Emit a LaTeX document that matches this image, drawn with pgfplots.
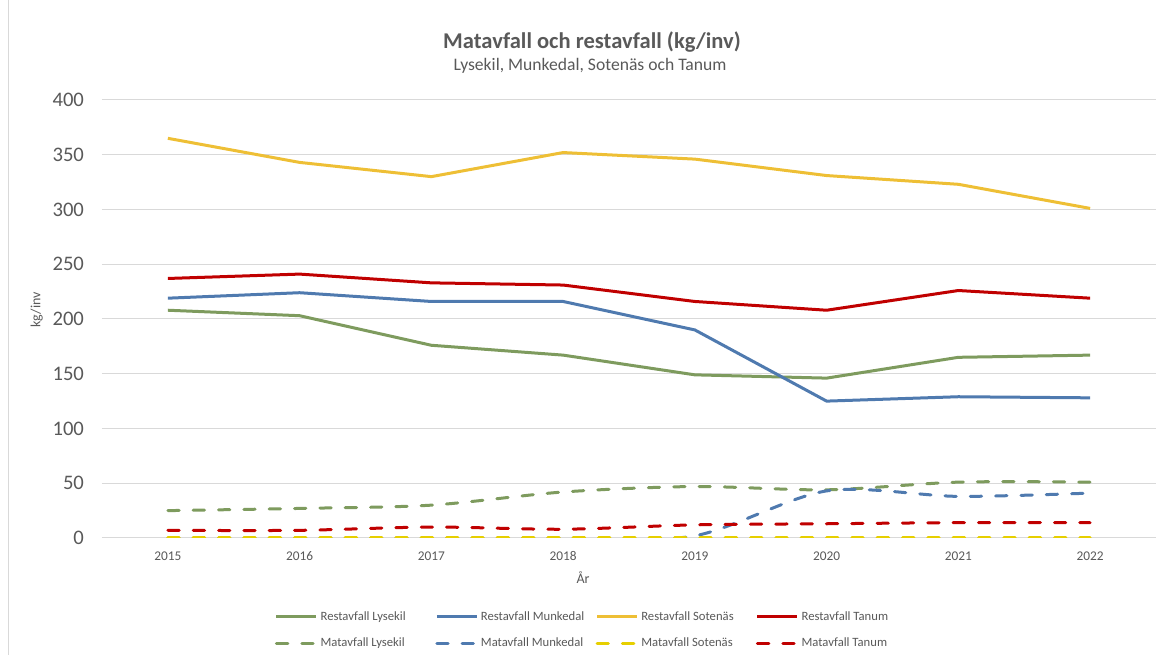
\documentclass[border=0pt]{standalone}
\usepackage{fontspec}
\setmainfont{Carlito}
\usepackage{pgfplots}
\pgfplotsset{compat=1.18}
\definecolor{cgreen}{HTML}{7E9B5E}
\definecolor{cblue}{HTML}{4F7AAF}
\definecolor{cyellow}{HTML}{EEBF35}
\definecolor{cyellowd}{HTML}{E6CF00}
\definecolor{cred}{HTML}{C00000}
\definecolor{cgrid}{HTML}{D9D9D9}
\definecolor{ctext}{HTML}{595959}
\begin{document}
\begin{tikzpicture}
\useasboundingbox (0,0) rectangle (870.75pt,491.25pt);
\draw[cgrid, line width=0.75pt] (6pt,0pt) -- (6pt,491.25pt);
\node[font=\fontsize{16.9}{20}\selectfont\bfseries, text=ctext] at (444pt,459.75pt) {Matavfall och restavfall (kg/inv)};
\node[font=\fontsize{13.2}{16}\selectfont, text=ctext] at (442.5pt,441.75pt) {Lysekil, Munkedal, Sotenäs och Tanum};
\begin{axis}[
  at={(76.5pt,87.75pt)}, anchor=south west,
  scale only axis, width=790.5pt, height=328.5pt,
  xmin=2014.5, xmax=2022.5, ymin=0, ymax=400,
  xtick={2015,2016,2017,2018,2019,2020,2021,2022},
  xticklabels={2015,2016,2017,2018,2019,2020,2021,2022},
  ytick={0,50,100,150,200,250,300,350,400},
  /pgf/number format/assume math mode=true,
  major tick length=0pt,
  axis line style={draw=none},
  ymajorgrids, grid style={cgrid, line width=0.75pt},
  yticklabel style={font=\fontsize{15.5}{18}\selectfont, text=ctext, anchor=east, xshift=-10pt},
  xticklabel style={font=\fontsize{10}{12}\selectfont, text=ctext, anchor=north, yshift=-6.5pt},
  ylabel={kg/inv}, xlabel={År},
  ylabel style={font=\fontsize{10.5}{12}\selectfont, text=ctext, at={(axis description cs:-0.062,0.5205)}, anchor=center},
  xlabel style={font=\fontsize{10.5}{12}\selectfont, text=ctext, at={(axis description cs:0.4564,-0.0913)}, anchor=center},
  legend columns=4,
  legend style={at={(axis description cs:0.1641,-0.2100)}, anchor=west, draw=none, inner sep=0pt, outer sep=0pt,
    font=\fontsize{9.5}{11}\selectfont, text=ctext, column sep=0pt, row sep=7.5pt, cells={anchor=west}},
  legend image code/.code={\draw[#1] (0pt,0pt) -- (30pt,0pt);},
  every axis plot/.append style={line width=2.25pt},
]
\addplot[cgreen, line join=round] coordinates {(2015,208) (2016,203) (2017,176) (2018,167) (2019,149) (2020,146) (2021,165) (2022,167)};
\addplot[cblue, line join=round] coordinates {(2015,219) (2016,224) (2017,216) (2018,216) (2019,190) (2020,125) (2021,129) (2022,128)};
\addplot[cyellow, line join=round] coordinates {(2015,365) (2016,343) (2017,330) (2018,352) (2019,346) (2020,331) (2021,323) (2022,301)};
\addplot[cred, line join=round] coordinates {(2015,237) (2016,241) (2017,233) (2018,231) (2019,216) (2020,208) (2021,226) (2022,219)};
\addplot[cgreen, smooth, line cap=round, dash pattern=on 8.5pt off 10.5pt] coordinates {(2015,25) (2016,27) (2017,30) (2018,42) (2019,47) (2020,44) (2021,51) (2022,51)};
\addplot[cblue, smooth, line cap=round, dash pattern=on 8.5pt off 10.5pt] coordinates {(2015,0) (2016,0) (2017,0) (2018,0) (2019,2) (2020,43) (2021,38) (2022,41)};
\addplot[cyellowd, smooth, line cap=round, dash pattern=on 8.5pt off 10.5pt] coordinates {(2015,0) (2016,0) (2017,0) (2018,0) (2019,0) (2020,0) (2021,0) (2022,0)};
\addplot[cred, smooth, line cap=round, dash pattern=on 8.5pt off 10.5pt] coordinates {(2015,7) (2016,7) (2017,10) (2018,8) (2019,12) (2020,13) (2021,14) (2022,14)};
\addlegendentry{\makebox[84pt][l]{Restavfall Lysekil}}
\addlegendentry{\makebox[84pt][l]{Restavfall Munkedal}}
\addlegendentry{\makebox[84pt][l]{Restavfall Sotenäs}}
\addlegendentry{\makebox[84pt][l]{Restavfall Tanum}}
\addlegendentry{\makebox[84pt][l]{Matavfall Lysekil}}
\addlegendentry{\makebox[84pt][l]{Matavfall Munkedal}}
\addlegendentry{\makebox[84pt][l]{Matavfall Sotenäs}}
\addlegendentry{\makebox[84pt][l]{Matavfall Tanum}}
\end{axis}
\end{tikzpicture}
\end{document}
